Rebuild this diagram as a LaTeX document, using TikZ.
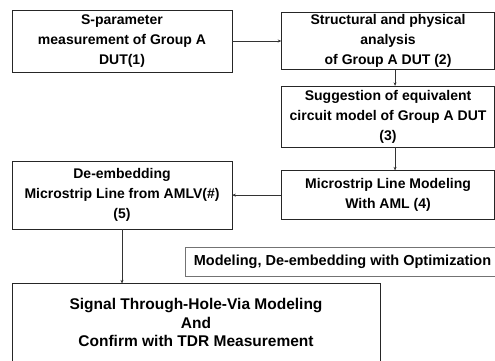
\documentclass[tikz,border=0pt]{standalone}
\usepackage{fontspec}
\setmainfont{Liberation Sans}
\usetikzlibrary{positioning,arrows.meta}

\tikzset{
  stage/.style={draw=black!85, line width=.55pt, align=center, inner sep=2pt,
    minimum width=213pt, font=\bfseries\fontsize{14}{20}\selectfont},
  flow/.style={draw=black!80, line width=.5pt, -{Stealth[length=3.5pt,width=3pt]}},
}

\begin{document}
\begin{tikzpicture}[x=1pt,y=1pt]
  \clip (0,0) rectangle (495,-360);

  \node (smeas) [stage, minimum width=220pt, minimum height=62pt] at (122,-41) {S-parameter\\measurement of Group A\\DUT(1)};
  \node (struct) [stage, minimum height=57pt, right=49pt of smeas] {Structural and physical\\analysis\\of Group A DUT (2)};
  \node (equiv) [stage, minimum height=61pt, below=16pt of struct] {Suggestion of equivalent\\circuit model of Group A DUT\\(3)};
  \node (aml) [stage, minimum height=49pt, below=23pt of equiv] {Microstrip Line Modeling\\With AML (4)};
  \node (deemb) [stage, minimum width=220pt, minimum height=68pt, left=49pt of aml] {De-embedding\\Microstrip Line from AMLV(\#)\\(5)};
  \node (opt) [draw=black!55, line width=.5pt, minimum width=315pt, minimum height=29pt,
    font=\bfseries\fontsize{14.5}{17}\selectfont] at (342.5,-261.5) {Modeling, De-embedding with Optimization};
  \node (via) [stage, minimum width=368pt, minimum height=78pt, font=\bfseries\fontsize{15.5}{18.5}\selectfont,
    below=54pt of deemb.south west, anchor=north west] {Signal Through-Hole-Via Modeling\\And\\Confirm with TDR Measurement};

  \draw [flow] (smeas) -- (struct);
  \draw [flow] ([xshift=7pt]struct.south) -- ([xshift=7pt]equiv.north);
  \draw [flow] ([xshift=7pt]equiv.south) -- ([xshift=7pt]aml.north);
  \draw [flow] (aml.west) -- (deemb.east);
  \draw [flow] (deemb.south) -- (deemb.south |- via.north);
\end{tikzpicture}
\end{document}
